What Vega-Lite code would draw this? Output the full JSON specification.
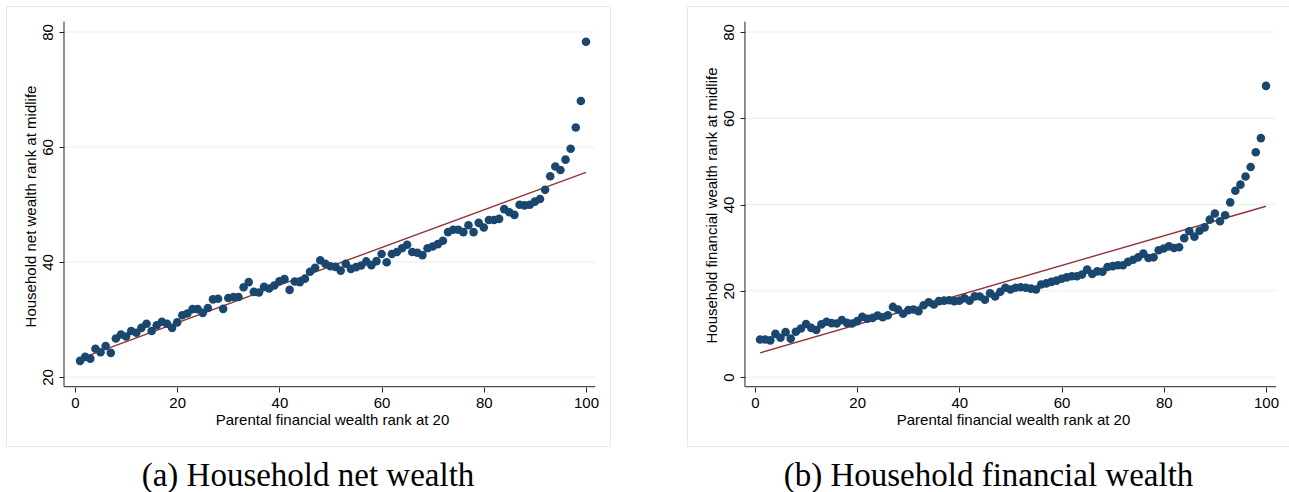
{
  "$schema": "https://vega.github.io/schema/vega-lite/v6.json",
  "background": "white",
  "padding": {"left": 5, "top": 5, "right": 0, "bottom": 0},
  "datasets": {
    "netw": [
      {"x":1,"y":22.8},{"x":2,"y":23.5},{"x":3,"y":23.2},{"x":4,"y":24.9},{"x":5,"y":24.3},{"x":6,"y":25.4},{"x":7,"y":24.2},{"x":8,"y":26.7},{"x":9,"y":27.4},{"x":10,"y":27.05},
      {"x":11,"y":28.0},{"x":12,"y":27.7},{"x":13,"y":28.55},{"x":14,"y":29.25},{"x":15,"y":28.0},{"x":16,"y":29.0},{"x":17,"y":29.6},{"x":18,"y":29.25},{"x":19,"y":28.55},{"x":20,"y":29.5},
      {"x":21,"y":30.75},{"x":22,"y":31.05},{"x":23,"y":31.8},{"x":24,"y":31.8},{"x":25,"y":31.15},{"x":26,"y":32.0},{"x":27,"y":33.5},{"x":28,"y":33.6},{"x":29,"y":31.85},{"x":30,"y":33.75},
      {"x":31,"y":33.9},{"x":32,"y":33.9},{"x":33,"y":35.6},{"x":34,"y":36.5},{"x":35,"y":34.8},{"x":36,"y":34.7},{"x":37,"y":35.7},{"x":38,"y":35.4},{"x":39,"y":35.9},{"x":40,"y":36.65},
      {"x":41,"y":37.05},{"x":42,"y":35.15},{"x":43,"y":36.6},{"x":44,"y":36.5},{"x":45,"y":37.1},{"x":46,"y":38.3},{"x":47,"y":39.0},{"x":48,"y":40.3},{"x":49,"y":39.7},{"x":50,"y":39.25},
      {"x":51,"y":39.15},{"x":52,"y":38.5},{"x":53,"y":39.7},{"x":54,"y":38.8},{"x":55,"y":39.1},{"x":56,"y":39.4},{"x":57,"y":40.1},{"x":58,"y":39.45},{"x":59,"y":40.15},{"x":60,"y":41.4},
      {"x":61,"y":39.95},{"x":62,"y":41.4},{"x":63,"y":41.75},{"x":64,"y":42.4},{"x":65,"y":43.0},{"x":66,"y":41.75},{"x":67,"y":41.6},{"x":68,"y":41.2},{"x":69,"y":42.4},{"x":70,"y":42.7},
      {"x":71,"y":43.1},{"x":72,"y":43.7},{"x":73,"y":45.2},{"x":74,"y":45.6},{"x":75,"y":45.6},{"x":76,"y":45.2},{"x":77,"y":46.4},{"x":78,"y":45.2},{"x":79,"y":46.8},{"x":80,"y":46.0},
      {"x":81,"y":47.3},{"x":82,"y":47.3},{"x":83,"y":47.5},{"x":84,"y":49.2},{"x":85,"y":48.65},{"x":86,"y":48.2},{"x":87,"y":49.95},{"x":88,"y":49.85},{"x":89,"y":49.95},{"x":90,"y":50.5},
      {"x":91,"y":50.95},{"x":92,"y":52.55},{"x":93,"y":54.9},{"x":94,"y":56.6},{"x":95,"y":56.0},{"x":96,"y":57.8},{"x":97,"y":59.7},{"x":98,"y":63.4},{"x":99,"y":68.0},{"x":100,"y":78.3}
    ],
    "finw": [
      {"x":1,"y":8.7},{"x":2,"y":8.7},{"x":3,"y":8.5},{"x":4,"y":10.0},{"x":5,"y":9.1},{"x":6,"y":10.4},{"x":7,"y":8.9},{"x":8,"y":10.5},{"x":9,"y":11.25},{"x":10,"y":12.3},
      {"x":11,"y":11.4},{"x":12,"y":10.9},{"x":13,"y":12.2},{"x":14,"y":12.8},{"x":15,"y":12.5},{"x":16,"y":12.4},{"x":17,"y":13.2},{"x":18,"y":12.55},{"x":19,"y":12.4},{"x":20,"y":12.95},
      {"x":21,"y":13.95},{"x":22,"y":13.5},{"x":23,"y":13.7},{"x":24,"y":14.25},{"x":25,"y":13.85},{"x":26,"y":14.3},{"x":27,"y":16.25},{"x":28,"y":15.65},{"x":29,"y":14.65},{"x":30,"y":15.5},
      {"x":31,"y":15.65},{"x":32,"y":15.25},{"x":33,"y":16.65},{"x":34,"y":17.35},{"x":35,"y":16.8},{"x":36,"y":17.6},{"x":37,"y":17.7},{"x":38,"y":17.8},{"x":39,"y":17.6},{"x":40,"y":17.7},
      {"x":41,"y":18.25},{"x":42,"y":17.7},{"x":43,"y":18.7},{"x":44,"y":18.65},{"x":45,"y":17.9},{"x":46,"y":19.4},{"x":47,"y":18.65},{"x":48,"y":19.75},{"x":49,"y":20.7},{"x":50,"y":20.3},
      {"x":51,"y":20.7},{"x":52,"y":20.8},{"x":53,"y":20.7},{"x":54,"y":20.5},{"x":55,"y":20.3},{"x":56,"y":21.45},{"x":57,"y":21.7},{"x":58,"y":22.05},{"x":59,"y":22.35},{"x":60,"y":22.8},
      {"x":61,"y":23.1},{"x":62,"y":23.35},{"x":63,"y":23.35},{"x":64,"y":23.75},{"x":65,"y":24.9},{"x":66,"y":23.9},{"x":67,"y":24.5},{"x":68,"y":24.4},{"x":69,"y":25.5},{"x":70,"y":25.7},
      {"x":71,"y":25.9},{"x":72,"y":25.9},{"x":73,"y":26.7},{"x":74,"y":27.2},{"x":75,"y":27.75},{"x":76,"y":28.6},{"x":77,"y":27.6},{"x":78,"y":27.75},{"x":79,"y":29.4},{"x":80,"y":29.8},
      {"x":81,"y":30.3},{"x":82,"y":29.9},{"x":83,"y":30.1},{"x":84,"y":32.2},{"x":85,"y":33.8},{"x":86,"y":32.55},{"x":87,"y":33.9},{"x":88,"y":34.7},{"x":89,"y":36.5},{"x":90,"y":37.9},
      {"x":91,"y":36.1},{"x":92,"y":37.5},{"x":93,"y":40.5},{"x":94,"y":43.2},{"x":95,"y":44.6},{"x":96,"y":46.5},{"x":97,"y":48.7},{"x":98,"y":52.1},{"x":99,"y":55.4},{"x":100,"y":67.5}
    ]
  },
  "hconcat": [
    {
      "width": 604,
      "height": 440,
      "title": {"text": "(a) Household net wealth", "orient": "bottom", "anchor": "middle", "frame": "group", "font": "Liberation Serif", "fontSize": 33, "fontWeight": "normal", "color": "#000000", "offset": 14},
      "layer": [
        {
          "data": {"values": [{"g":20},{"g":40},{"g":60},{"g":80}]},
          "mark": {"type": "rule", "color": "#e8eff1", "strokeWidth": 1},
          "encoding": {
            "y": {"field": "g", "type": "quantitative", "scale": {"domain": [8.0, 84.52], "nice": false, "zero": false},
                  "axis": {"title": "Household net wealth rank at midlife", "values": [20,40,60,80], "offset": -58, "labelAngle": 270, "labelAlign": "center", "labelBaseline": "bottom", "labelPadding": 4, "titlePadding": 2, "titleY": 200}},
            "x": {"datum": -2.15, "type": "quantitative", "scale": {"domain": [-13.5, 104.7], "nice": false, "zero": false},
                  "axis": {"title": "Parental financial wealth rank at 20", "values": [0,20,40,60,80,100], "offset": -59, "labelPadding": 3, "titlePadding": 2, "titleX": 326}},
            "x2": {"datum": 101.8}
          }
        },
        {
          "data": {"values": [{}]},
          "mark": {"type": "rule", "color": "#222222", "strokeWidth": 1},
          "encoding": {
            "y": {"datum": 18.31, "type": "quantitative", "scale": {"domain": [8.0, 84.52], "nice": false, "zero": false},
                  "axis": {"title": "Household net wealth rank at midlife", "values": [20,40,60,80], "offset": -58, "labelAngle": 270, "labelAlign": "center", "labelBaseline": "bottom", "labelPadding": 4, "titlePadding": 2, "titleY": 200}},
            "x": {"datum": -2.15, "type": "quantitative", "scale": {"domain": [-13.5, 104.7], "nice": false, "zero": false},
                  "axis": {"title": "Parental financial wealth rank at 20", "values": [0,20,40,60,80,100], "offset": -59, "labelPadding": 3, "titlePadding": 2, "titleX": 326}},
            "x2": {"datum": 101.8}
          }
        },
        {
          "data": {"values": [{}]},
          "mark": {"type": "rule", "color": "#222222", "strokeWidth": 1},
          "encoding": {
            "x": {"datum": -2.15, "type": "quantitative", "scale": {"domain": [-13.5, 104.7], "nice": false, "zero": false},
                  "axis": {"title": "Parental financial wealth rank at 20", "values": [0,20,40,60,80,100], "offset": -59, "labelPadding": 3, "titlePadding": 2, "titleX": 326}},
            "y": {"datum": 18.31, "type": "quantitative", "scale": {"domain": [8.0, 84.52], "nice": false, "zero": false},
                  "axis": {"title": "Household net wealth rank at midlife", "values": [20,40,60,80], "offset": -58, "labelAngle": 270, "labelAlign": "center", "labelBaseline": "bottom", "labelPadding": 4, "titlePadding": 2, "titleY": 200}},
            "y2": {"datum": 81.8}
          }
        },
        {
          "data": {"values": [{"x":1,"y":23.2},{"x":100,"y":55.6}]},
          "mark": {"type": "line", "color": "#90353b", "strokeWidth": 1.4},
          "encoding": {
            "x": {"field": "x", "type": "quantitative", "scale": {"domain": [-13.5, 104.7], "nice": false, "zero": false},
                  "axis": {"title": "Parental financial wealth rank at 20", "values": [0,20,40,60,80,100], "offset": -59, "labelPadding": 3, "titlePadding": 2, "titleX": 326}},
            "y": {"field": "y", "type": "quantitative", "scale": {"domain": [8.0, 84.52], "nice": false, "zero": false},
                  "axis": {"title": "Household net wealth rank at midlife", "values": [20,40,60,80], "offset": -58, "labelAngle": 270, "labelAlign": "center", "labelBaseline": "bottom", "labelPadding": 4, "titlePadding": 2, "titleY": 200}}
          }
        },
        {
          "data": {"name": "netw"},
          "mark": {"type": "point", "filled": true, "shape": "circle", "size": 74, "color": "#1a476f", "opacity": 1},
          "encoding": {
            "x": {"field": "x", "type": "quantitative", "scale": {"domain": [-13.5, 104.7], "nice": false, "zero": false},
                  "axis": {"title": "Parental financial wealth rank at 20", "values": [0,20,40,60,80,100], "offset": -59, "labelPadding": 3, "titlePadding": 2, "titleX": 326}},
            "y": {"field": "y", "type": "quantitative", "scale": {"domain": [8.0, 84.52], "nice": false, "zero": false},
                  "axis": {"title": "Household net wealth rank at midlife", "values": [20,40,60,80], "offset": -58, "labelAngle": 270, "labelAlign": "center", "labelBaseline": "bottom", "labelPadding": 4, "titlePadding": 2, "titleY": 200}}
          }
        }
      ]
    },
    {
      "width": 603,
      "height": 440,
      "title": {"text": "(b) Household financial wealth", "orient": "bottom", "anchor": "middle", "frame": "group", "font": "Liberation Serif", "fontSize": 33, "fontWeight": "normal", "color": "#000000", "offset": 14},
      "layer": [
        {
          "data": {"values": [{"g":0},{"g":20},{"g":40},{"g":60},{"g":80}]},
          "mark": {"type": "rule", "color": "#e8eff1", "strokeWidth": 1},
          "encoding": {
            "y": {"field": "g", "type": "quantitative", "scale": {"domain": [-16.0, 86.03], "nice": false, "zero": false},
                  "axis": {"title": "Household financial wealth rank at midlife", "values": [0,20,40,60,80], "offset": -58, "labelAngle": 270, "labelAlign": "center", "labelBaseline": "bottom", "labelPadding": 4, "titlePadding": 2, "titleY": 199}},
            "x": {"datum": -1.96, "type": "quantitative", "scale": {"domain": [-13.3, 104.7], "nice": false, "zero": false},
                  "axis": {"title": "Parental financial wealth rank at 20", "values": [0,20,40,60,80,100], "offset": -59, "labelPadding": 3, "titlePadding": 2, "titleX": 326}},
            "x2": {"datum": 101.96}
          }
        },
        {
          "data": {"values": [{}]},
          "mark": {"type": "rule", "color": "#222222", "strokeWidth": 1},
          "encoding": {
            "y": {"datum": -2.25, "type": "quantitative", "scale": {"domain": [-16.0, 86.03], "nice": false, "zero": false},
                  "axis": {"title": "Household financial wealth rank at midlife", "values": [0,20,40,60,80], "offset": -58, "labelAngle": 270, "labelAlign": "center", "labelBaseline": "bottom", "labelPadding": 4, "titlePadding": 2, "titleY": 199}},
            "x": {"datum": -1.96, "type": "quantitative", "scale": {"domain": [-13.3, 104.7], "nice": false, "zero": false},
                  "axis": {"title": "Parental financial wealth rank at 20", "values": [0,20,40,60,80,100], "offset": -59, "labelPadding": 3, "titlePadding": 2, "titleX": 326}},
            "x2": {"datum": 101.96}
          }
        },
        {
          "data": {"values": [{}]},
          "mark": {"type": "rule", "color": "#222222", "strokeWidth": 1},
          "encoding": {
            "x": {"datum": -1.96, "type": "quantitative", "scale": {"domain": [-13.3, 104.7], "nice": false, "zero": false},
                  "axis": {"title": "Parental financial wealth rank at 20", "values": [0,20,40,60,80,100], "offset": -59, "labelPadding": 3, "titlePadding": 2, "titleX": 326}},
            "y": {"datum": -2.25, "type": "quantitative", "scale": {"domain": [-16.0, 86.03], "nice": false, "zero": false},
                  "axis": {"title": "Household financial wealth rank at midlife", "values": [0,20,40,60,80], "offset": -58, "labelAngle": 270, "labelAlign": "center", "labelBaseline": "bottom", "labelPadding": 4, "titlePadding": 2, "titleY": 199}},
            "y2": {"datum": 82.4}
          }
        },
        {
          "data": {"values": [{"x":1,"y":5.6},{"x":100,"y":39.6}]},
          "mark": {"type": "line", "color": "#90353b", "strokeWidth": 1.4},
          "encoding": {
            "x": {"field": "x", "type": "quantitative", "scale": {"domain": [-13.3, 104.7], "nice": false, "zero": false},
                  "axis": {"title": "Parental financial wealth rank at 20", "values": [0,20,40,60,80,100], "offset": -59, "labelPadding": 3, "titlePadding": 2, "titleX": 326}},
            "y": {"field": "y", "type": "quantitative", "scale": {"domain": [-16.0, 86.03], "nice": false, "zero": false},
                  "axis": {"title": "Household financial wealth rank at midlife", "values": [0,20,40,60,80], "offset": -58, "labelAngle": 270, "labelAlign": "center", "labelBaseline": "bottom", "labelPadding": 4, "titlePadding": 2, "titleY": 199}}
          }
        },
        {
          "data": {"name": "finw"},
          "mark": {"type": "point", "filled": true, "shape": "circle", "size": 74, "color": "#1a476f", "opacity": 1},
          "encoding": {
            "x": {"field": "x", "type": "quantitative", "scale": {"domain": [-13.3, 104.7], "nice": false, "zero": false},
                  "axis": {"title": "Parental financial wealth rank at 20", "values": [0,20,40,60,80,100], "offset": -59, "labelPadding": 3, "titlePadding": 2, "titleX": 326}},
            "y": {"field": "y", "type": "quantitative", "scale": {"domain": [-16.0, 86.03], "nice": false, "zero": false},
                  "axis": {"title": "Household financial wealth rank at midlife", "values": [0,20,40,60,80], "offset": -58, "labelAngle": 270, "labelAlign": "center", "labelBaseline": "bottom", "labelPadding": 4, "titlePadding": 2, "titleY": 199}}
          }
        }
      ]
    }
  ],
  "spacing": 75,
  "config": {
    "view": {"stroke": "#e3eaed", "strokeWidth": 1},
    "font": "Liberation Sans",
    "axis": {
      "domain": false,
      "grid": false,
      "ticks": true,
      "tickColor": "#222222",
      "tickSize": 5,
      "tickWidth": 1,
      "labelFont": "Liberation Sans",
      "labelFontSize": 15,
      "labelColor": "#000000",
      "labelFlush": false,
      "labelOverlap": false,
      "labelBound": false,
      "titleFont": "Liberation Sans",
      "titleFontSize": 15,
      "titleFontWeight": "normal",
      "titleColor": "#000000"
    }
  }
}
